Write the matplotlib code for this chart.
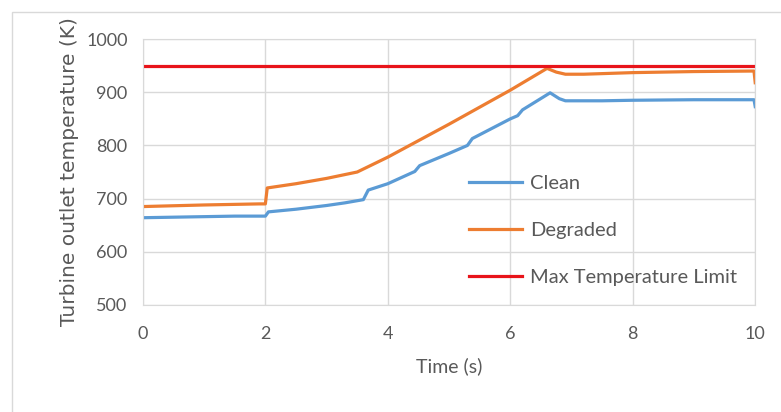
import matplotlib.pyplot as plt
from matplotlib.patches import Rectangle

# values
clean_t = [0, 0.5, 1.0, 1.5, 2.0, 2.05, 2.5, 3.0, 3.3, 3.6, 3.68, 4.0, 4.44, 4.52,
           5.0, 5.3, 5.38, 6.0, 6.12, 6.2, 6.65, 6.8, 6.9, 7.5, 8.0, 9.0, 9.98, 10.0]
clean_T = [664, 665, 666, 667, 667, 675, 680, 687, 692, 698, 716, 728, 751, 762,
           785, 800, 813, 850, 856, 867, 899, 888, 884, 884, 885, 886, 886, 873]

degraded_t = [0, 1.0, 1.9, 2.0, 2.03, 2.5, 3.0, 3.5, 4.0, 5.0, 6.0, 6.6, 6.75,
              6.9, 7.2, 8.0, 9.0, 9.98, 10.0]
degraded_T = [685, 688, 690, 690, 720, 728, 738, 750, 778, 840, 904, 945, 938,
              934, 934, 937, 939, 940, 918]

limit_t = [0, 10]
limit_T = [950, 950]

x_ticks = [0, 2, 4, 6, 8, 10]
y_ticks = [500, 600, 700, 800, 900, 1000]

grey = '#595959'

fig = plt.figure(figsize=(7.81, 4.12), dpi=100)
ax = fig.add_axes([0.183, 0.26, 0.784, 0.645])

# outer chart frame
fig.patches.append(Rectangle((12 / 781, -0.1), 1.2, 1.1 - 12 / 412,
                             transform=fig.transFigure, fill=False,
                             edgecolor='#d9d9d9', linewidth=1))

ax.plot(clean_t, clean_T, color='#5b9bd5', lw=2.3, label='Clean')
ax.plot(degraded_t, degraded_T, color='#ed7d31', lw=2.3, label='Degraded')
ax.plot(limit_t, limit_T, color='#e8141a', lw=2.3, label='Max Temperature Limit')

ax.set_xlim(0, 10)
ax.set_ylim(500, 1000)
ax.set_xticks(x_ticks)
ax.set_yticks(y_ticks)
ax.grid(True, color='#d9d9d9', lw=1)
ax.set_axisbelow(True)
for s in ax.spines.values():
    s.set_color('#d9d9d9')
ax.tick_params(length=0, labelsize=13, labelcolor=grey)
ax.tick_params(axis='x', pad=15)
ax.tick_params(axis='y', pad=11)
for lab in ax.get_xticklabels() + ax.get_yticklabels():
    lab.set_family('Lato')

ax.set_xlabel('Time (s)', fontsize=14, color=grey, family='Lato', labelpad=11)
ax.set_ylabel('Turbine outlet temperature (K)', fontsize=14.5, color=grey, labelpad=5)

leg = ax.legend(loc='center left', bbox_to_anchor=(0.533, 0.28), frameon=False,
                borderpad=0, borderaxespad=0, handlelength=2.6, handletextpad=0.4,
                labelspacing=1.5, prop={'family': 'Lato', 'size': 14.5})
for t in leg.get_texts():
    t.set_color(grey)

fig.savefig('out.png', dpi=100)
